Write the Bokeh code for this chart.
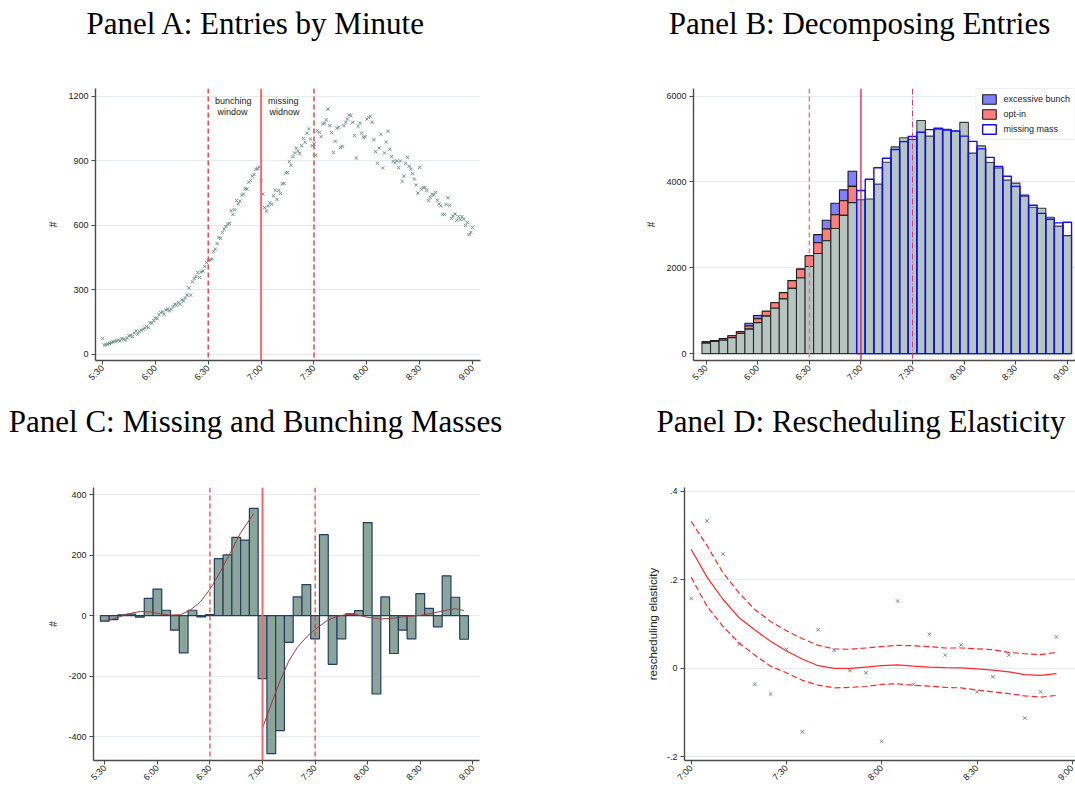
import math
from bokeh.plotting import figure
from bokeh.models import Span, Label, FixedTicker, Legend, LegendItem, Range1d
from bokeh.layouts import column, row
from bokeh.embed import file_html
from bokeh.resources import INLINE
from bokeh.core.properties import value

FONT = "Liberation Sans"
TFONT = "Liberation Serif"

# ---------------- data ----------------
x_ticks = [0, 30, 60, 90, 120, 150, 180, 210]          # minutes after 5:30
x_tick_labels = ["5:30", "6:00", "6:30", "7:00", "7:30", "8:00", "8:30", "9:00"]

# Panel A: entries by minute (5:30 .. 9:00)
a_minute = list(range(0, 211))
a_entries = [
    74, 43, 45, 47, 50, 54, 57, 60, 62, 67,
    62, 73, 70, 67, 76, 86, 88, 82, 98, 109,
    93, 106, 112, 116, 122, 129, 124, 147, 144, 156,
    168, 166, 184, 194, 197, 186, 206, 210, 202, 210,
    222, 233, 228, 241, 233, 253, 248, 262, 275, 309,
    275, 337, 352, 362, 380, 357, 383, 387, 408, 427,
    435, 439, 442, 477, 489, 515, 543, 539, 566, 582,
    594, 605, 608, 668, 650, 672, 715, 700, 712, 740,
    745, 770, 768, 800, 808, 828, 836, 860, 864, 870,
    808, 745, 682, 666, 690, 705, 697, 737, 763, 720,
    762, 748, 793, 795, 843, 845, 896, 879, 919, 936,
    958, 944, 934, 970, 1004, 986, 1028, 1048, 1001, 970,
    978, 925, 1040, 1032, 1012, 1071, 1075, 1090, 1141, 1063,
    1031, 939, 990, 1051, 1056, 962, 967, 1063, 1079, 1094,
    1113, 1110, 1079, 1017, 913, 1060, 1076, 1028, 1009, 1012,
    1094, 1101, 1107, 1079, 998, 942, 888, 959, 1023, 866,
    936, 987, 1037, 953, 919, 897, 891, 899, 868, 899,
    804, 829, 888, 916, 874, 860, 840, 815, 787, 750,
    869, 767, 775, 776, 762, 714, 730, 744, 740, 753,
    716, 699, 691, 650, 650, 697, 728, 692, 632, 643,
    652, 623, 640, 627, 640, 629, 599, 613, 557, 567, 590,
]

# Panel B: 5-minute bins
b_bin = [0, 5, 10, 15, 20, 25, 30, 35, 40, 45, 50, 55, 60, 65, 70, 75, 80, 85,
         90, 95, 100, 105, 110, 115, 120, 125, 130, 135, 140, 145, 150, 155, 160,
         165, 170, 175, 180, 185, 190, 195, 200, 205, 210]
b_actual = [243, 281, 311, 372, 471, 570, 722, 873, 1056, 1276, 1519, 1762, 2028,
            2332, 2628, 2916, 3220, 3516, 3585, 3600, 3949, 4458, 4815, 5028, 4990,
            5430, 5066, 5225, 5225, 5180, 5385, 4671, 4838, 4451, 4322, 4040, 3972,
            3668, 3410, 3387, 3175, 2970, 2749]
b_pre_bin = b_bin[:18]
b_optin_top = [273, 304, 349, 418, 516, 645, 813, 987, 1185, 1420, 1701, 1967,
               2279, 2582, 2901, 3235, 3562, 3896]
b_bunch_top = [273, 304, 349, 418, 516, 706, 889, 987, 1185, 1420, 1701, 1967,
               2279, 2772, 3106, 3501, 3813, 4246]
b_post_bin = b_bin[18:]
b_missing = [3798, 4063, 4329, 4550, 4754, 4937, 5058, 5157, 5218, 5248, 5210,
             5187, 5066, 4944, 4770, 4572, 4360, 4132, 3896, 3691, 3456, 3266,
             3129, 3046, 3061]

# Panel C: missing and bunching masses
c_bin = b_bin[:42]
c_mass = [-18, -13, 3, 5, -5, 57, 88, 18, -48, -123, 18, -4, 4, 189, 201, 259, 250,
          355, -208, -456, -380, -88, 62, 103, -77, 268, -161, -77, 6, 17, 308, -259,
          62, -125, -48, -77, 73, 24, -37, 132, 61, -78]
c_fit_pre_min = [0, 5.1, 10.8, 16.5, 20.4, 26.1, 31.8, 37.5, 43.2, 48.9, 54.6,
                 60.3, 66.0, 71.7, 77.4, 85.0]
c_fit_pre_val = [-18, -10, 1, 10, 14, 12, 6, 2, 3, 19, 46, 90, 146, 209, 273, 338]
c_fit_post_min = [89.8, 92.6, 96.4, 100.2, 105.0, 109.8, 115.5, 121.2, 126.9, 132.6,
                  138.3, 144.0, 149.7, 157.3, 164.9, 172.5, 180.1, 187.7, 195.4,
                  200.1, 204.9]
c_fit_post_val = [-375, -330, -270, -213, -150, -105, -68, -40, -16, -2, 4, 3, -5,
                  -11, -8, -2, 1, 9, 19, 23, 17]

# Panel D: rescheduling elasticity
d_ticks = [90, 120, 150, 180, 210]
d_tick_labels = ["7:00", "7:30", "8:00", "8:30", "9:00"]
d_min = [90, 95, 100, 105, 110, 115, 120, 125, 130, 135, 140, 145, 150, 155, 160,
         165, 170, 175, 180, 185, 190, 195, 200, 205]
d_elast = [0.158, 0.333, 0.258, 0.055, -0.036, -0.058, 0.043, -0.143, 0.087, 0.041,
           -0.005, -0.010, -0.165, 0.152, -0.036, 0.077, 0.030, 0.053, -0.053,
           -0.019, 0.030, -0.112, -0.053, 0.071]
d_fit = [0.269, 0.206, 0.156, 0.115, 0.087, 0.061, 0.039, 0.021, 0.006, 0.0, 0.0,
         0.003, 0.006, 0.008, 0.005, 0.003, 0.0015, 0.001, -0.001, -0.004, -0.008,
         -0.014, -0.016, -0.012]
d_hi = [0.332, 0.277, 0.216, 0.171, 0.133, 0.106, 0.085, 0.067, 0.052, 0.044, 0.043,
        0.046, 0.049, 0.052, 0.051, 0.049, 0.046, 0.046, 0.044, 0.042, 0.036, 0.033,
        0.031, 0.036]
d_lo = [0.206, 0.140, 0.095, 0.058, 0.030, 0.005, -0.010, -0.027, -0.038, -0.044,
        -0.043, -0.041, -0.036, -0.035, -0.038, -0.040, -0.043, -0.044, -0.049,
        -0.053, -0.057, -0.062, -0.065, -0.061]

panel_titles = ["Panel A: Entries by Minute", "Panel B: Decomposing Entries",
                "Panel C: Missing and Bunching Masses", "Panel D: Rescheduling Elasticity"]


# ---------------- helpers ----------------
def make_fig(w, h, xr, yr, bl, br, bt, bb):
    p = figure(width=w, height=h, x_range=Range1d(*xr), y_range=Range1d(*yr),
               output_backend="svg", toolbar_location=None, title=None,
               min_border_left=bl, min_border_right=br,
               min_border_top=bt, min_border_bottom=bb)
    p.outline_line_color = None
    p.background_fill_color = "white"
    p.border_fill_color = "white"
    p.xgrid.visible = False
    p.ygrid.grid_line_color = "#e3ebee"
    p.ygrid.grid_line_width = 1
    for ax in (p.xaxis[0], p.yaxis[0]):
        ax.axis_line_color = "#4a4a4a"
        ax.axis_line_width = 1.4
        ax.major_tick_line_color = "#4a4a4a"
        ax.major_tick_line_width = 1
        ax.major_tick_in = 0
        ax.major_tick_out = 4
        ax.minor_tick_line_color = None
        ax.major_label_text_font = FONT
        ax.major_label_text_font_size = "9px"
        ax.major_label_text_color = "#222222"
        ax.major_label_standoff = 3
        ax.axis_label_text_font = FONT
        ax.axis_label_text_font_style = "normal"
        ax.axis_label_text_color = "#222222"
        ax.axis_label_text_font_size = "10px"
    p.xaxis.major_label_standoff = 2
    p.xaxis.major_label_orientation = math.pi / 4
    return p


def title_fig(w, h, text, cx, base_y):
    t = figure(width=w, height=h, x_range=Range1d(0, w), y_range=Range1d(0, h),
               output_backend="svg", toolbar_location=None, title=None,
               min_border=0, min_border_left=0, min_border_right=0,
               min_border_top=0, min_border_bottom=0)
    t.axis.visible = False
    t.grid.visible = False
    t.outline_line_color = None
    t.border_fill_color = "white"
    t.background_fill_color = "white"
    t.text(x=[cx], y=[base_y], text=[text], text_align="center",
           text_baseline="alphabetic", text_font=value(TFONT),
           text_font_size="31px", text_color="black")
    return t


def set_ticks(p, xt, xl, yt, yl):
    p.xaxis.ticker = FixedTicker(ticks=xt)
    p.xaxis.major_label_overrides = {t: l for t, l in zip(xt, xl)}
    p.yaxis.ticker = FixedTicker(ticks=yt)
    p.ygrid.ticker = FixedTicker(ticks=yt)
    p.yaxis.major_label_overrides = {t: l for t, l in zip(yt, yl)}


MARK = "#6f918a"

# ---------------- Panel A ----------------
pA = make_fig(537, 356, (-4.0, 214.5), (-29, 1236), 95, 57, 44, 40)
set_ticks(pA, x_ticks, x_tick_labels, [0, 300, 600, 900, 1200],
          ["0", "300", "600", "900", "1200"])
pA.yaxis.axis_label = "#"
pA.yaxis.axis_label_standoff = 6
pA.add_layout(Span(location=60, dimension="height", line_color="#f24c4c",
                   line_width=1.6, line_dash="5 3"))
pA.add_layout(Span(location=90, dimension="height", line_color="#f46a6a",
                   line_width=2))
pA.add_layout(Span(location=120, dimension="height", line_color="#f24c4c",
                   line_width=1.6, line_dash="5 3"))
pA.scatter(a_minute, a_entries, marker="x", size=4.5, line_color=MARK, line_width=1)
for txt, xx, yy in [("bunching", 74.2, 1180), ("window", 73.7, 1129),
                    ("missing", 102.6, 1180), ("widnow", 103.3, 1129)]:
    pA.add_layout(Label(x=xx, y=yy, text=txt, text_align="center",
                        text_baseline="middle", text_font=FONT,
                        text_font_size="9px", text_color="#222222"))

# ---------------- Panel B ----------------
pB = make_fig(538, 356, (-7.4, 214.8), (-160, 6175), 156, 0, 44, 34)
set_ticks(pB, x_ticks, x_tick_labels, [0, 2000, 4000, 6000],
          ["0", "2000", "4000", "6000"])
pB.yaxis.axis_label = "#"
pB.yaxis.axis_label_standoff = 6
r_bunch = pB.vbar(x=b_pre_bin, bottom=b_optin_top, top=b_bunch_top, width=5,
                  fill_color="#7f7fff", line_color="#1a1a1a", line_width=1.1)
r_opt = pB.vbar(x=b_pre_bin, bottom=b_actual[:18], top=b_optin_top, width=5,
                fill_color="#ff7f7f", line_color="#1a1a1a", line_width=1.1)
pB.vbar(x=b_bin, bottom=0, top=b_actual, width=5, fill_color="#b7c5c1",
        line_color="#1a1a1a", line_width=1.1, line_alpha=0.85)
r_miss = pB.vbar(x=b_post_bin, bottom=0, top=b_missing, width=5, fill_color=None,
                 line_color="#1010f0", line_width=1.4)
pB.add_layout(Span(location=60, dimension="height", line_color="#e57a98",
                   line_width=1.5, line_dash="5 3"))
pB.add_layout(Span(location=90, dimension="height", line_color="#cc1144",
                   line_width=1.2))
pB.add_layout(Span(location=120, dimension="height", line_color="#d63a64",
                   line_width=1.0, line_dash="6 2 1 2"))
leg = Legend(items=[LegendItem(label="excessive bunch", renderers=[r_bunch]),
                    LegendItem(label="opt-in", renderers=[r_opt]),
                    LegendItem(label="missing mass", renderers=[r_miss])],
             location="top_right")
leg.label_text_font = FONT
leg.label_text_font_size = "9px"
leg.label_text_color = "#222222"
leg.glyph_height = 12
leg.glyph_width = 17
leg.spacing = 3
leg.padding = 4
leg.margin = 0
leg.label_standoff = 6
leg.label_height = 12
leg.border_line_color = "#e2e2e2"
leg.background_fill_color = "white"
leg.background_fill_alpha = 1
pB.add_layout(leg)

# ---------------- Panel C ----------------
pC = make_fig(537, 344, (-6.45, 213.8), (-479, 424), 93, 58, 43, 23)
set_ticks(pC, x_ticks, x_tick_labels, [-400, -200, 0, 200, 400],
          ["-400", "-200", "0", "200", "400"])
pC.yaxis.axis_label = "#"
pC.yaxis.axis_label_standoff = 6
pC.vbar(x=c_bin, bottom=0, top=c_mass, width=5, fill_color="#8da49b",
        line_color="#1f3f66", line_width=1.2)
pC.add_layout(Span(location=60, dimension="height", line_color="#ff1f1f",
                   line_width=1.1, line_dash="5 3"))
pC.add_layout(Span(location=90, dimension="height", line_color="#f46a6a",
                   line_width=2))
pC.add_layout(Span(location=120, dimension="height", line_color="#ff1f1f",
                   line_width=1.1, line_dash="5 3"))
pC.line(c_fit_pre_min, c_fit_pre_val, line_color="#a03a3a", line_width=1)
pC.line(c_fit_post_min, c_fit_post_val, line_color="#a03a3a", line_width=1)

# ---------------- Panel D ----------------
pD = make_fig(538, 344, (87.9, 211.0), (-0.208, 0.4083), 147, 0, 43, 23)
set_ticks(pD, d_ticks, d_tick_labels, [-0.2, 0, 0.2, 0.4], ["-.2", "0", ".2", ".4"])
pD.yaxis.axis_label = "rescheduling elasticity"
pD.yaxis.axis_label_text_font_size = "11.5px"
pD.yaxis.axis_label_standoff = 5
pD.line(d_min, d_hi, line_color="#ff2a2a", line_width=1.2, line_dash="6 3")
pD.line(d_min, d_lo, line_color="#ff2a2a", line_width=1.2, line_dash="6 3")
pD.line(d_min, d_fit, line_color="#ff2a2a", line_width=1.2)
pD.scatter(d_min, d_elast, marker="x", size=5, line_color=MARK, line_width=1)

# ---------------- titles ----------------
tA = title_fig(537, 44, panel_titles[0], 255.5, 21.5)
tB = title_fig(538, 44, panel_titles[1], 322, 21.5)
tC = title_fig(537, 44, panel_titles[2], 255, 23)
tD = title_fig(538, 44, panel_titles[3], 323.5, 23)

layout = column(row(tA, tB), row(pA, pB), row(tC, tD), row(pC, pD))
open("out.html", "w").write(file_html(layout, INLINE))
